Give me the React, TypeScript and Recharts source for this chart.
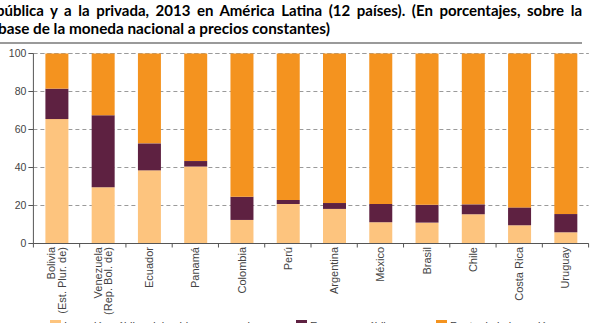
import React from "react";
import { BarChart, Bar, XAxis, YAxis, CartesianGrid } from "recharts";

// Countries (line breaks split the rotated labels)
const countries = [
  "Bolivia\n(Est. Plur. de)",
  "Venezuela\n(Rep. Bol. de)",
  "Ecuador",
  "Panamá",
  "Colombia",
  "Perú",
  "Argentina",
  "México",
  "Brasil",
  "Chile",
  "Costa Rica",
  "Uruguay",
];

// Shares of gross fixed capital formation (%)
const gobiernoGeneral = [65.5, 29.6, 38.5, 40.5, 12.4, 20.8, 18.2, 11.2, 11.0, 15.4, 9.6, 5.9];
const empresasPublicas = [16.0, 37.9, 14.2, 2.9, 12.2, 2.1, 3.1, 9.6, 9.4, 5.2, 9.4, 9.6];
const restoInversion = gobiernoGeneral.map((g, i) => 100 - g - empresasPublicas[i]);

const yTicks = [0, 20, 40, 60, 80, 100];

const seriesNames = [
  "Inversión pública del gobierno general",
  "Empresas públicas",
  "Resto de la inversión",
];

const COLORS = ["#FDC47E", "#5E2141", "#F4931F"];

const data = countries.map((name, i) => ({
  name,
  gobierno: gobiernoGeneral[i],
  empresas: empresasPublicas[i],
  resto: restoInversion[i],
}));

const W = 596;
const H = 323;
const M = { top: 53.5, right: 7.4, left: 0, bottom: 0 };
const Y_AXIS_W = 33.4;
const X_AXIS_H = 79.5;
const HALF_BAND = (W - M.left - M.right - Y_AXIS_W) / countries.length / 2;

const tickFont = "'Liberation Sans', Arial, sans-serif";

const CountryTick = (props: any) => {
  const { x, y, payload, index } = props;
  const lines: string[] = String(payload.value).split("\n");
  const offsets = lines.length === 1 ? [4] : [-1.2, 9];
  return (
    <g>
      <line x1={x - HALF_BAND} x2={x - HALF_BAND} y1={y} y2={y + 4} stroke="#555" strokeWidth={1} />
      {index === countries.length - 1 && (
        <line x1={x + HALF_BAND} x2={x + HALF_BAND} y1={y} y2={y + 4} stroke="#555" strokeWidth={1} />
      )}
      <g transform={`translate(${x},${y + 3.5}) rotate(-90)`}>
        {lines.map((t, k) => (
          <text
            key={k}
            x={0}
            y={offsets[k]}
            textAnchor="end"
            fontSize={11}
            fontFamily={tickFont}
            fill="#444"
          >
            {t}
          </text>
        ))}
      </g>
    </g>
  );
};

const Legend = () => {
  const items = [
    { left: 50, text: seriesNames[0], color: COLORS[0] },
    { left: 296, text: seriesNames[1], color: COLORS[1] },
    { left: 436, text: seriesNames[2], color: COLORS[2] },
  ];
  return (
    <>
      {items.map((it) => (
        <div
          key={it.text}
          style={{
            position: "absolute",
            top: 320,
            left: it.left,
            display: "flex",
            alignItems: "flex-start",
            fontFamily: tickFont,
            fontSize: 11,
            color: "#444",
            whiteSpace: "nowrap",
            lineHeight: "12px",
          }}
        >
          <span style={{ display: "inline-block", width: 11, height: 10, background: it.color, marginRight: 3 }} />
          <span>{it.text}</span>
        </div>
      ))}
    </>
  );
};

export default function App() {
  const titleFont = "Lato, 'Open Sans', sans-serif";
  return (
    <div
      style={{
        position: "fixed",
        left: 0,
        top: 0,
        width: W,
        height: H,
        overflow: "hidden",
        background: "#fff",
      }}
    >
      <div
        style={{
          position: "absolute",
          left: -4,
          top: 1,
          width: 586,
          fontFamily: titleFont,
          fontWeight: 700,
          fontSize: 15,
          lineHeight: "18px",
          color: "#000",
          textAlign: "justify",
          textAlignLast: "justify",
          whiteSpace: "nowrap",
        }}
      >
        pública y a la privada, 2013 en América Latina (12 países). (En porcentajes, sobre la
      </div>
      <div
        style={{
          position: "absolute",
          left: -2,
          top: 19,
          fontFamily: titleFont,
          fontWeight: 700,
          fontSize: 15.3,
          lineHeight: "18px",
          color: "#000",
          whiteSpace: "nowrap",
        }}
      >
        base de la moneda nacional a precios constantes)
      </div>
      <div style={{ position: "absolute", left: 0, top: 41.5, width: 582, height: 2, background: "#9a9a9a" }} />

      <div style={{ position: "absolute", left: 0, top: 0 }}>
        <BarChart width={W} height={H} data={data} margin={M} barSize={23}>
          <CartesianGrid vertical={false} stroke="#9a9a9a" strokeDasharray="4 3" />
          <XAxis
            dataKey="name"
            height={X_AXIS_H}
            interval={0}
            tickLine={false}
            tickSize={0}
            tickMargin={0}
            axisLine={{ stroke: "#555" }}
            tick={<CountryTick />}
          />
          <YAxis
            width={Y_AXIS_W}
            domain={[0, 100]}
            ticks={yTicks}
            tickSize={5}
            tickMargin={2}
            axisLine={{ stroke: "#555" }}
            tickLine={{ stroke: "#555" }}
            tick={{ fontSize: 10.5, fontFamily: tickFont, fill: "#444" }}
          />
          <Bar dataKey="gobierno" name={seriesNames[0]} stackId="a" fill={COLORS[0]} isAnimationActive={false} />
          <Bar dataKey="empresas" name={seriesNames[1]} stackId="a" fill={COLORS[1]} isAnimationActive={false} />
          <Bar dataKey="resto" name={seriesNames[2]} stackId="a" fill={COLORS[2]} isAnimationActive={false} />
        </BarChart>
      </div>
      <Legend />
    </div>
  );
}
